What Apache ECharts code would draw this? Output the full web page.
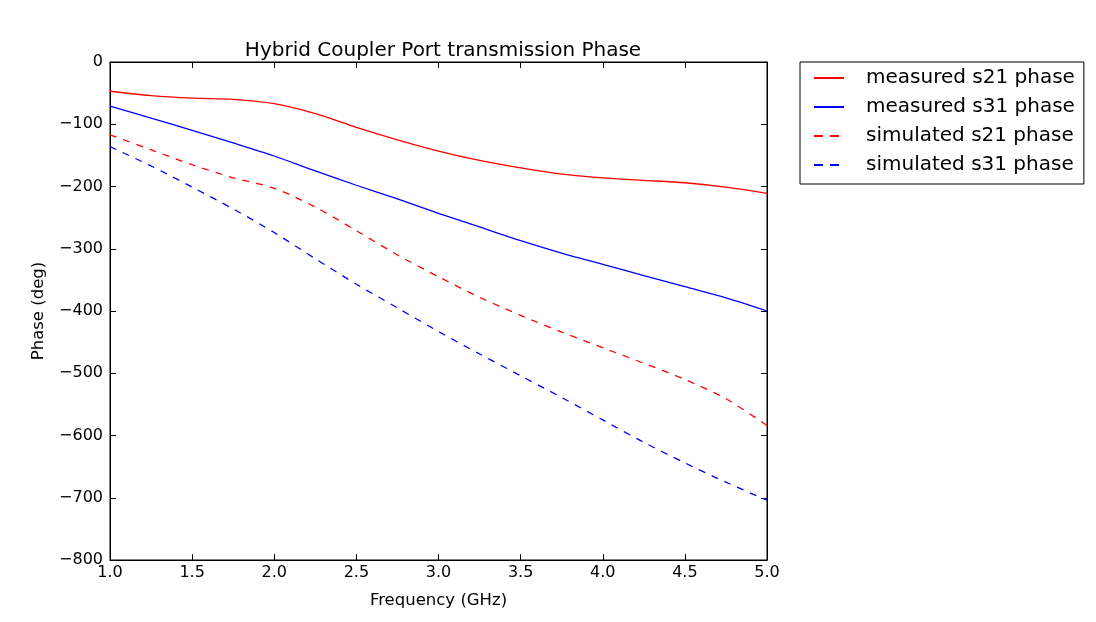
<!DOCTYPE html>
<html>
<head>
    <meta charset="utf-8">
    <title>Hybrid Coupler Port transmission Phase</title>
    <script src="https://cdn.jsdelivr.net/npm/echarts@6/dist/echarts.min.js"></script>
    <style>
        html, body { margin: 0; padding: 0; background: #fff; }
        #chart { width: 1096px; height: 622px; }
    </style>
</head>
<body>
<div id="chart"></div>
<script>
    // frequency samples (GHz)
    var freq = [1.0, 1.25, 1.5, 1.75, 2.0, 2.25, 2.5, 2.75, 3.0, 3.25, 3.5, 3.75, 4.0, 4.25, 4.5, 4.75, 5.0];
    // phase values (deg)
    var measS21 = [-47, -54, -58, -60, -67, -83, -105, -125, -143, -158, -170, -180, -186, -190, -194, -201, -211];
    var measS31 = [-71, -90, -110, -130, -151, -175, -198, -220, -243, -265, -287, -307, -325, -343, -361, -379, -400];
    var simS21 = [-117, -141, -165, -186, -203, -233, -271, -310, -345, -378, -407, -434, -459, -484, -510, -541, -584];
    var simS31 = [-136, -167, -201, -236, -274, -316, -357, -395, -433, -469, -504, -539, -575, -611, -644, -675, -704];
    var names = ['measured s21 phase', 'measured s31 phase', 'simulated s21 phase', 'simulated s31 phase'];

    var font = 'DejaVu Sans';

    function pairs(ys) {
        return freq.map(function (f, i) { return [f, ys[i]]; });
    }

    function line(name, ys, color, dashed) {
        return {
            name: name,
            type: 'line',
            data: pairs(ys),
            smooth: 0.3,
            symbol: 'none',
            lineStyle: { color: color, width: 1.3, type: dashed ? [7, 7] : 'solid' },
            itemStyle: { color: color }
        };
    }

    var chart = echarts.init(document.getElementById('chart'));
    var option = {
        animation: false,
        title: {
            text: 'Hybrid Coupler Port transmission Phase',
            left: 438,
            textAlign: 'center',
            top: 36,
            textStyle: { fontFamily: font, fontSize: 20, fontWeight: 'normal', color: '#000' }
        },
        legend: {
            orient: 'vertical',
            left: 800,
            top: 62,
            padding: [6, 9, 9, 13],
            itemWidth: 30,
            itemHeight: 14,
            itemGap: 9,
            borderColor: '#000',
            borderWidth: 1,
            borderRadius: 0,
            itemStyle: { opacity: 0 },
            textStyle: { fontFamily: font, fontSize: 20, color: '#000', padding: [0, 0, 0, 17] },
            data: [
                { name: names[0] },
                { name: names[1] },
                { name: names[2], lineStyle: { type: [9, 7] } },
                { name: names[3], lineStyle: { type: [9, 7] } }
            ]
        },
        grid: {
            left: 110, top: 62, width: 657, height: 498,
            show: true, borderColor: '#000', borderWidth: 1, backgroundColor: '#fff'
        },
        xAxis: [{
            type: 'value',
            min: 1, max: 5, interval: 0.5,
            name: 'Frequency (GHz)',
            nameLocation: 'middle',
            nameGap: 32,
            nameTextStyle: { fontFamily: font, fontSize: 16.5, color: '#000' },
            axisLine: { onZero: false, lineStyle: { color: '#000' } },
            axisTick: { inside: true, length: 6, lineStyle: { color: '#000' } },
            splitLine: { show: false },
            axisLabel: {
                fontFamily: font, fontSize: 16, color: '#000', margin: 5,
                formatter: function (v) { return v.toFixed(1); }
            }
        }, {
            type: 'value', position: 'top',
            min: 1, max: 5, interval: 0.5,
            axisLine: { onZero: false, lineStyle: { color: '#000' } },
            axisTick: { inside: true, length: 6, lineStyle: { color: '#000' } },
            axisLabel: { show: false },
            splitLine: { show: false }
        }],
        yAxis: [{
            type: 'value',
            min: -800, max: 0, interval: 100,
            name: 'Phase (deg)',
            nameLocation: 'middle',
            nameGap: 63,
            nameTextStyle: { fontFamily: font, fontSize: 16.5, color: '#000' },
            axisLine: { show: true, onZero: false, lineStyle: { color: '#000' } },
            axisTick: { inside: true, length: 6, lineStyle: { color: '#000' } },
            splitLine: { show: false },
            axisLabel: {
                fontFamily: font, fontSize: 16, color: '#000', margin: 7,
                formatter: function (v) { return String(v).replace('-', '\u2212'); }
            }
        }, {
            type: 'value', position: 'right',
            min: -800, max: 0, interval: 100,
            axisLine: { show: true, onZero: false, lineStyle: { color: '#000' } },
            axisTick: { inside: true, length: 6, lineStyle: { color: '#000' } },
            axisLabel: { show: false },
            splitLine: { show: false }
        }],
        series: [
            line(names[0], measS21, '#ff0000', false),
            line(names[1], measS31, '#0000ff', false),
            line(names[2], simS21, '#ff0000', true),
            line(names[3], simS31, '#0000ff', true)
        ]
    };
    chart.setOption(option);
</script>
</body>
</html>
